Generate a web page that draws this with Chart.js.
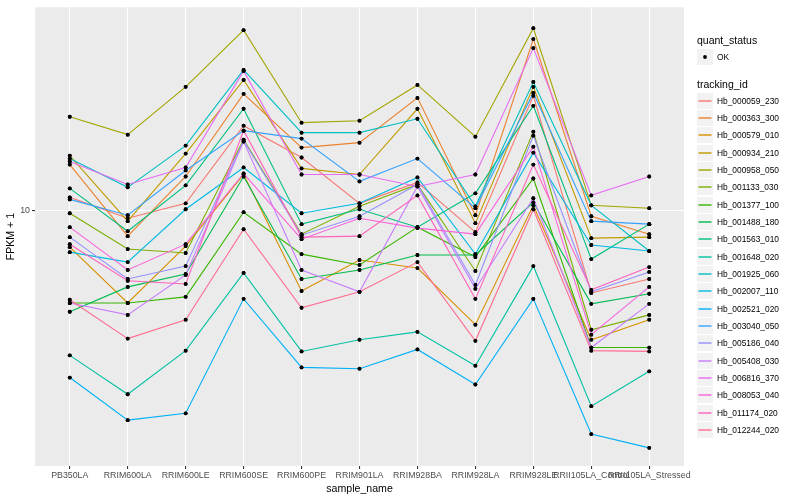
<!DOCTYPE html>
<html><head><meta charset="utf-8">
<script src="https://cdn.jsdelivr.net/npm/chart.js@4.4.1/dist/chart.umd.min.js"></script>
<style>
html,body{margin:0;padding:0;background:#fff;}
#wrap{position:relative;width:800px;height:500px;overflow:hidden;}
#c{position:absolute;left:0;top:0;}
.lg{position:absolute;font-family:"Liberation Sans",Arial,sans-serif;color:#000;white-space:nowrap;}
.ttl{font-size:10.5px;line-height:12px;}
.lbl{font-size:8.4px;line-height:10px;}
.key{position:absolute;}
</style></head><body>
<div id="wrap"><canvas id="c" width="800" height="500"></canvas><div id="legend"></div></div>
<script>
const categories = ["PB350LA","RRIM600LA","RRIM600LE","RRIM600SE","RRIM600PE","RRIM901LA","RRIM928BA","RRIM928LA","RRIM928LE","RRII105LA_Control","RRII105LA_Stressed"];
const trackingIds = ["Hb_000059_230","Hb_000363_300","Hb_000579_010","Hb_000934_210","Hb_000958_050","Hb_001133_030","Hb_001377_100","Hb_001488_180","Hb_001563_010","Hb_001648_020","Hb_001925_060","Hb_002007_110","Hb_002521_020","Hb_003040_050","Hb_005186_040","Hb_005408_030","Hb_006816_370","Hb_008053_040","Hb_011174_020","Hb_012244_020"];
const seriesColors = ["#F8766D","#EA8331","#D89000","#C09B00","#A3A500","#7CAE00","#39B600","#00BB4E","#00BF7D","#00C1A3","#00BFC4","#00BAE0","#00B0F6","#35A2FF","#9590FF","#C77CFF","#E76BF3","#FA62DB","#FF62BC","#FF6C91"];
const quantStatus = ["OK"];
const yTickValues = [10];
const yRange = [2.278, 32.36];

const hb_000059_230 = [10.78, 9.55, 10.41, 16.31, 13.57, 10.41, 11.75, 8.81, 19.39, 6.20, 6.72];
const hb_000363_300 = [13.03, 8.61, 12.16, 19.61, 14.37, 14.79, 19.16, 9.72, 26.92, 9.66, 8.71];
const hb_000579_010 = [8.08, 5.85, 8.13, 12.30, 6.27, 7.50, 7.16, 5.16, 10.29, 4.73, 5.31];
const hb_000934_210 = [13.72, 9.39, 13.88, 21.26, 12.74, 12.30, 17.99, 9.28, 20.42, 8.51, 8.56];
const hb_000958_050 = [17.18, 15.49, 20.42, 28.35, 16.60, 16.79, 20.65, 15.31, 28.67, 10.29, 10.12];
const hb_001133_030 = [9.83, 7.99, 7.81, 15.05, 8.71, 10.23, 11.61, 7.04, 15.76, 5.01, 5.46];
const hb_001377_100 = [5.85, 5.85, 6.06, 9.89, 7.76, 7.29, 9.07, 7.63, 12.02, 4.52, 4.52];
const hb_001488_180 = [5.56, 6.42, 6.92, 12.16, 6.72, 7.08, 7.72, 7.72, 10.47, 5.82, 6.17];
const hb_001563_010 = [11.35, 8.86, 11.55, 17.99, 9.23, 10.06, 9.07, 11.03, 18.30, 7.54, 9.23];
const hb_001648_020 = [4.32, 3.45, 4.44, 6.96, 4.42, 4.73, 4.95, 4.07, 7.24, 3.22, 3.94];
const hb_001925_060 = [13.49, 11.42, 14.54, 22.52, 15.67, 15.67, 16.98, 10.23, 21.01, 10.29, 7.90];
const hb_002007_110 = [7.85, 7.41, 10.06, 12.81, 9.83, 10.41, 12.09, 7.76, 13.96, 8.18, 7.90];
const hb_002521_020 = [3.80, 2.97, 3.09, 5.99, 4.03, 4.00, 4.47, 3.65, 5.99, 2.74, 2.53];
const hb_003040_050 = [10.65, 9.72, 12.59, 15.85, 15.14, 11.82, 13.49, 10.12, 19.72, 9.39, 9.23];
const hb_005186_040 = [8.56, 6.72, 7.24, 14.96, 8.66, 9.66, 11.61, 6.49, 15.40, 6.24, 7.00];
const hb_005408_030 = [5.85, 5.46, 6.88, 14.88, 7.08, 6.24, 11.48, 6.35, 10.72, 4.52, 5.82];
const hb_006816_370 = [13.26, 11.61, 12.81, 22.39, 12.30, 12.30, 11.48, 12.30, 25.56, 10.90, 12.16];
const hb_008053_040 = [9.07, 7.08, 8.22, 12.37, 8.46, 9.55, 9.02, 8.71, 14.45, 4.87, 6.42];
const hb_011174_020 = [8.22, 6.65, 6.53, 15.85, 8.56, 8.61, 10.90, 5.99, 13.03, 6.31, 7.20];
const hb_012244_020 = [5.96, 4.76, 5.31, 8.96, 5.69, 6.24, 7.41, 4.70, 10.06, 4.44, 4.42];

const seriesValues = [hb_000059_230, hb_000363_300, hb_000579_010, hb_000934_210, hb_000958_050, hb_001133_030, hb_001377_100, hb_001488_180, hb_001563_010, hb_001648_020, hb_001925_060, hb_002007_110, hb_002521_020, hb_003040_050, hb_005186_040, hb_005408_030, hb_006816_370, hb_008053_040, hb_011174_020, hb_012244_020];

const FONT = '"Liberation Sans", Arial, sans-serif';

const datasets = trackingIds.map((id, i) => ({
  label: id,
  data: seriesValues[i].map((v, j) => ({x: j, y: v})),
  borderColor: seriesColors[i],
  backgroundColor: '#000',
  pointBackgroundColor: '#000',
  pointBorderColor: '#000',
  pointBorderWidth: 0,
  pointRadius: 1.9,
  borderWidth: 1.1,
  tension: 0,
  fill: false,
  order: trackingIds.length - i
}));

const panelBg = {
  id: 'panelBg',
  beforeDraw(chart) {
    const a = chart.chartArea, ctx = chart.ctx;
    ctx.save(); ctx.fillStyle = '#EBEBEB';
    ctx.fillRect(a.left, a.top, a.right - a.left, a.bottom - a.top);
    ctx.restore();
  }
};
const pointsOnTop = {
  id: 'pointsOnTop',
  afterDatasetsDraw(chart) {
    const ctx = chart.ctx;
    chart.getSortedVisibleDatasetMetas().forEach(m => m.data.forEach(p => p.draw(ctx, chart.chartArea)));
  }
};

Chart.defaults.font.family = FONT;
new Chart(document.getElementById('c'), {
  type: 'line',
  data: { datasets },
  plugins: [panelBg, pointsOnTop],
  options: {
    responsive: false, animation: false, devicePixelRatio: 1,
    layout: { padding: { left: 0, right: 116, top: 5, bottom: 0 } },
    plugins: { legend: { display: false }, tooltip: { enabled: false } },
    scales: {
      x: {
        type: 'linear', min: -0.6, max: 10.6,
        afterBuildTicks: s => { s.ticks = categories.map((c, i) => ({ value: i })); },
        afterFit: s => { s.height = 34; },
        ticks: { callback: v => categories[v], autoSkip: false, maxRotation: 0, minRotation: 0,
                 color: '#4D4D4D', font: { size: 8.8 }, padding: 1.5 },
        grid: { color: '#FFFFFF', lineWidth: 1.1, tickColor: '#333333', tickLength: 3 },
        border: { display: false },
        title: { display: true, text: 'sample_name', color: '#000', font: { size: 10.6 }, padding: { top: 0, bottom: 5 } }
      },
      y: {
        type: 'logarithmic', min: yRange[0], max: yRange[1],
        afterBuildTicks: s => { s.ticks = yTickValues.map(v => ({ value: v })); },
        afterFit: s => { s.width = 35; },
        ticks: { callback: v => String(v), color: '#4D4D4D', font: { size: 8.8 }, padding: 2 },
        grid: { color: '#FFFFFF', lineWidth: 1.1, tickColor: '#333333', tickLength: 3 },
        border: { display: false },
        title: { display: true, text: 'FPKM + 1', color: '#000', font: { size: 10.6 }, padding: { top: 5, bottom: 0 } }
      }
    }
  }
});

// legend (HTML text, SVG keys)
const lg = document.getElementById('legend');
function add(html) { lg.insertAdjacentHTML('beforeend', html); }
add(`<div class="lg ttl" style="left:697px;top:34px;">quant_status</div>`);
quantStatus.forEach((q, i) => {
  const top = 49 + i * 17;
  add(`<svg class="key" style="left:697px;top:${top}px;" width="16" height="16"><rect x="0" y="0" width="16" height="16" fill="#F2F2F2"/><circle cx="8" cy="8" r="1.9" fill="#000"/></svg>`);
  add(`<div class="lg lbl" style="left:717px;top:${top + 3}px;">${q}</div>`);
});
add(`<div class="lg ttl" style="left:697px;top:78px;">tracking_id</div>`);
trackingIds.forEach((id, i) => {
  const top = Math.round(92.7 + i * 17.33);
  add(`<svg class="key" style="left:697px;top:${top}px;" width="16" height="16"><rect x="0" y="0" width="16" height="16" fill="#F2F2F2"/><line x1="1.5" y1="8" x2="14.5" y2="8" stroke="${seriesColors[i]}" stroke-width="1.4"/></svg>`);
  add(`<div class="lg lbl" style="left:717px;top:${top + 3}px;">${id}</div>`);
});
</script>
</body></html>
